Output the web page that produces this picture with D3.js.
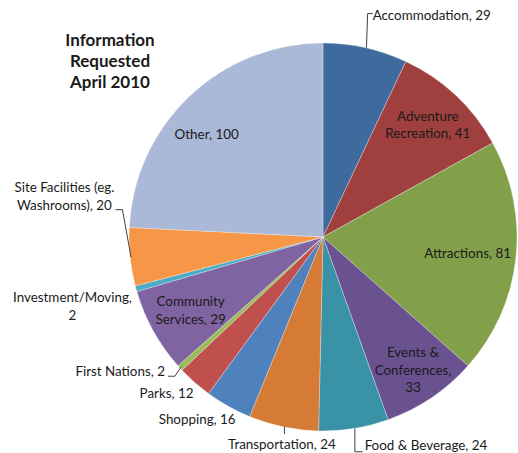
<!DOCTYPE html>
<html>
<head>
<meta charset="utf-8">
<script src="https://cdn.jsdelivr.net/npm/d3@7"></script>
<style>
  body { margin: 0; background: #fff; }
  svg text { font-family: Lato, "Open Sans", sans-serif; fill: #1a1a1a; }
</style>
</head>
<body>
<div id="chart"></div>
<script>
const categories = ['Accommodation', 'Adventure Recreation', 'Attractions', 'Events & Conferences',
  'Food & Beverage', 'Transportation', 'Shopping', 'Parks', 'First Nations',
  'Community Services', 'Investment/Moving', 'Site Facilities (eg. Washrooms)', 'Other'];
const values = [29, 41, 81, 33, 24, 24, 16, 12, 2, 29, 2, 20, 100];
const colors = ['#3e6a9e', '#a0403e', '#82a04a', '#6a5290', '#3a92a7', '#d57b35',
  '#4f81bd', '#c0504d', '#9bbb59', '#8064a2', '#4bacc6', '#f79646', '#aab9d7'];
const labelLines = [
  ['Accommodation, 29'], ['Adventure', 'Recreation, 41'], ['Attractions, 81'],
  ['Events &', 'Conferences,', '33'], ['Food & Beverage, 24'], ['Transportation, 24'],
  ['Shopping, 16'], ['Parks, 12'], ['First Nations, 2'], ['Community', 'Services, 29'],
  ['Investment/Moving,', '2'], ['Site Facilities (eg.', 'Washrooms), 20'], ['Other, 100']
];
const titleLines = ['Information', 'Requested', 'April 2010'];

// label placement: radius factor, text anchor, nudge, leader line
const place = [
  { k: 1.17, anchor: 'start', dx: 0, dy: 0, leader: 'elbow' },
  { k: 0.79, anchor: 'middle', dx: 0, dy: 0 },
  { k: 0.75, anchor: 'middle', dx: 0, dy: 0 },
  { k: 0.83, anchor: 'middle', dx: 0, dy: 0 },
  { k: 1.09, anchor: 'start', dx: 8, dy: 0, leader: 'down' },
  { k: 1.09, anchor: 'middle', dx: 2, dy: 0, leader: 'down' },
  { k: 1.05, anchor: 'end', dx: 12, dy: 5 },
  { k: 1.04, anchor: 'end', dx: 4, dy: 5 },
  { k: 1.07, anchor: 'end', dx: -5, dy: -6, leader: 'short' },
  { k: 0.78, anchor: 'middle', dx: 0, dy: 0 },
  { k: 1.34, anchor: 'middle', dx: 0, dy: 0 },
  { k: 1.34, anchor: 'middle', dx: 0, dy: -67, leader: 'site' },
  { k: 0.78, anchor: 'middle', dx: -12, dy: 7 }
];

const width = 518, height = 453;
const cx = 323, cy = 237, radius = 194;
const lineH = 17.5;

const svg = d3.select('#chart').append('svg')
  .attr('width', width).attr('height', height);

const g = svg.append('g').attr('transform', `translate(${cx},${cy})`);

const pie = d3.pie().sort(null).value(d => d);
const arcs = pie(values);
const arc = d3.arc().innerRadius(0).outerRadius(radius);

g.selectAll('path.slice')
  .data(arcs).enter()
  .append('path')
  .attr('class', 'slice')
  .attr('d', arc)
  .attr('fill', (d, i) => colors[i])
  .attr('stroke', 'rgba(255,255,255,0.5)')
  .attr('stroke-width', 0.6);

const mid = d => (d.startAngle + d.endAngle) / 2;
const polar = (a, r) => [Math.sin(a) * r, -Math.cos(a) * r];

// Labels
arcs.forEach((d, i) => {
  const p = place[i];
  const [x0, y0] = polar(mid(d), radius * p.k);
  const x = x0 + p.dx, y = y0 + p.dy;
  const lines = labelLines[i];
  const t = g.append('text')
    .attr('text-anchor', p.anchor)
    .style('font-size', '13.4px');
  const top = y - (lines.length - 1) * lineH / 2 + 4.5;
  lines.forEach((ln, j) => {
    t.append('tspan').attr('x', x).attr('y', top + j * lineH).text(ln);
  });

  if (!p.leader) return;
  const [ex, ey] = polar(mid(d), radius);
  let pts;
  if (p.leader === 'elbow') pts = [[ex + 1, ey], [x - 5, y0 - 2], [x, y0 - 2]];
  else if (p.leader === 'down') {
    pts = p.anchor === 'start'
      ? [[ex + 1, ey], [ex + 1, y + 6], [x - 2, y + 6]]
      : [[ex + 1, ey], [ex + 1, y - 10]];
  }
  else if (p.leader === 'short') pts = [[ex + 1, ey - 1], [x + 10, y + 5], [x + 3, y + 5]];
  else if (p.leader === 'site') pts = [[ex + 1, ey], [x + 58, y + 13], [x + 51, y + 13]];
  g.append('path')
    .attr('d', d3.line()(pts))
    .attr('fill', 'none')
    .attr('stroke', '#404040')
    .attr('stroke-width', 1);
});

// Title
const title = svg.append('text')
  .attr('text-anchor', 'middle')
  .style('font-size', '17px')
  .style('font-weight', 'bold');
titleLines.forEach((ln, j) => {
  title.append('tspan').attr('x', 110).attr('y', 46 + j * 21).text(ln);
});
</script>
</body>
</html>
